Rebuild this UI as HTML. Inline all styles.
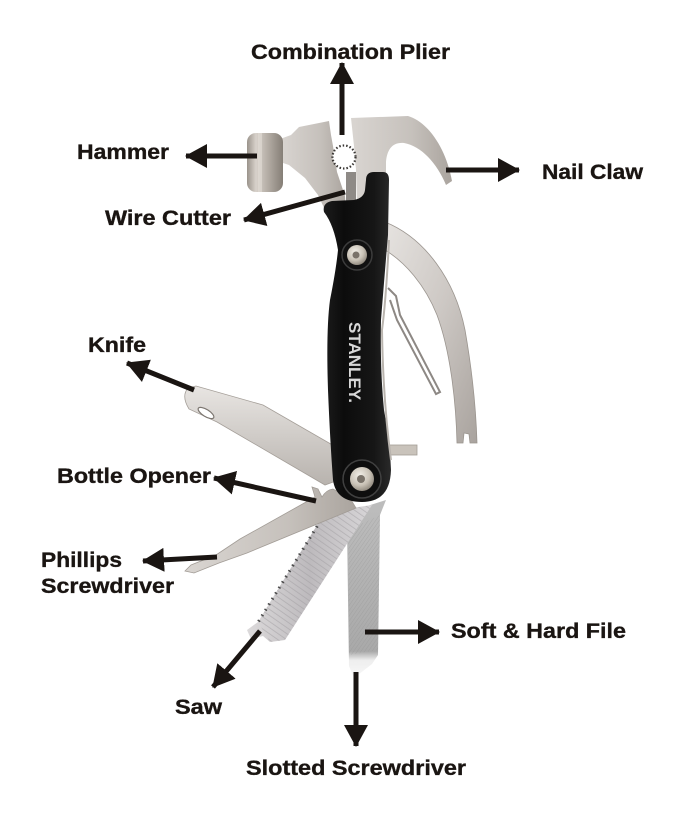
<!DOCTYPE html>
<html><head><meta charset="utf-8"><style>
html,body{margin:0;padding:0;background:#fff;}
svg{display:block;}
text{font-family:"Liberation Sans",Arial,sans-serif;font-weight:bold;fill:#1a1512;}
.lb text{stroke:#1a1512;stroke-width:0.35px;}
</style></head><body>
<svg width="683" height="820" viewBox="0 0 683 820" xmlns="http://www.w3.org/2000/svg">
<defs>
<linearGradient id="silv" x1="0" y1="0" x2="1" y2="1"><stop offset="0" stop-color="#e6e3e0"/><stop offset="0.5" stop-color="#cdc8c4"/><stop offset="1" stop-color="#a9a39e"/></linearGradient>
<linearGradient id="silv2" x1="0" y1="0" x2="1" y2="0"><stop offset="0" stop-color="#d9d5d1"/><stop offset="0.6" stop-color="#c6c1bc"/><stop offset="1" stop-color="#aaa49e"/></linearGradient>
<linearGradient id="head" x1="0" y1="0" x2="1" y2="0"><stop offset="0" stop-color="#9a938b"/><stop offset="0.25" stop-color="#d8d2cb"/><stop offset="0.55" stop-color="#b7b0a8"/><stop offset="1" stop-color="#857e76"/></linearGradient>
<linearGradient id="knife" x1="0" y1="0" x2="0" y2="1"><stop offset="0" stop-color="#e8e5e2"/><stop offset="1" stop-color="#b8b3ae"/></linearGradient>
<linearGradient id="hdl" x1="0" y1="0" x2="1" y2="0"><stop offset="0" stop-color="#1c1c1c"/><stop offset="0.3" stop-color="#0c0c0c"/><stop offset="0.75" stop-color="#161616"/><stop offset="1" stop-color="#2a2a2a"/></linearGradient>
<radialGradient id="scr" cx="0.4" cy="0.35" r="0.7"><stop offset="0" stop-color="#f2efe8"/><stop offset="0.6" stop-color="#c9c2b6"/><stop offset="1" stop-color="#8a8378"/></radialGradient>
<linearGradient id="file" x1="0" y1="0" x2="0" y2="1"><stop offset="0" stop-color="#bdbdbd"/><stop offset="0.85" stop-color="#a9a9a9"/><stop offset="0.9" stop-color="#eeeeee"/><stop offset="1" stop-color="#f8f8f8"/></linearGradient>
<linearGradient id="saw" x1="0" y1="0" x2="1" y2="0"><stop offset="0" stop-color="#dcdadb"/><stop offset="0.5" stop-color="#bdbabd"/><stop offset="1" stop-color="#d8d6d8"/></linearGradient>
<pattern id="hatch" width="3" height="3" patternUnits="userSpaceOnUse" patternTransform="rotate(35)"><rect width="3" height="3" fill="none"/><line x1="0" y1="0" x2="0" y2="3" stroke="#8f8f8f" stroke-width="0.8"/></pattern>
<pattern id="stripe" width="5" height="5" patternUnits="userSpaceOnUse" patternTransform="rotate(-55)"><line x1="0" y1="0" x2="0" y2="5" stroke="#9d9a9e" stroke-width="1.6"/></pattern>
<marker id="ah" viewBox="0 0 22 24" refX="21" refY="12" markerWidth="22" markerHeight="24" markerUnits="userSpaceOnUse" orient="auto"><path d="M0,0 L22,12 L0,24 Z" fill="#1a1512"/></marker>
</defs>

<!-- curved blade -->
<path d="M385,222 C425,238 455,280 465,330 C472,370 476,410 477,443 L470,443 L469,434 L464,433 L463,443 L457,443 C456,400 450,350 437,315 C425,285 405,262 385,250 Z" fill="url(#silv)" stroke="#9b958f" stroke-width="0.8"/>
<!-- clip wire -->
<path d="M388,288 L396,296 L400,315 L440,392 L436,394 L397,320 L390,300" fill="none" stroke="#8d8884" stroke-width="2"/>
<!-- tab -->
<rect x="388" y="445" width="29" height="10" fill="#c9c3bb" stroke="#a39d96" stroke-width="0.8"/>

<!-- file -->
<path d="M347,528 L358,509 L386,500 L380,515 L378,655 L372,664 L354,678 L349,666 Z" fill="url(#file)"/>
<path d="M348,530 L380,515 L378,650 L349,655 Z" fill="url(#hatch)" opacity="0.5"/>

<!-- saw -->
<path d="M325,512 L372,505 L285,640 L270,642 L263,636 L251,639 L247,630 L258,622 Z" fill="url(#saw)"/>
<path d="M325,512 L372,505 L285,640 L270,642 L258,622 Z" fill="url(#stripe)" opacity="0.55"/>
<line x1="324" y1="515" x2="257" y2="624" stroke="#4a4a4a" stroke-width="3" stroke-dasharray="1.5 5"/>

<!-- bottle opener / phillips -->
<path d="M350,498 L333,489 Q326,490 322,497 L318,489 L312,487 L315,497 L240,539 L222,551 L216,555 L191,565 L185,571 L194,573 L219,563 L247,553 L356,508 Z" fill="url(#silv2)" stroke="#a29c96" stroke-width="0.8"/>

<!-- knife -->
<path d="M188,388 Q181,396 189,409 L217,422 L325,485 L336,481 L336,447 L263,405 L196,386 Z" fill="url(#knife)" stroke="#a49e98" stroke-width="0.8"/>
<ellipse cx="206" cy="413" rx="9" ry="3.5" transform="rotate(32 206 413)" fill="#fff" stroke="#7c7670" stroke-width="1.2"/>

<!-- jaws -->
<path d="M280,139 L291,135 L299,127 L329,121 L331,135 L333,146 L337,172 L345,196 L346,212 L326,212 L318,195 L305,178 L289,165 L280,162 Z" fill="url(#silv2)"/>
<path d="M351,118 L408,116 C428,122 446,148 452,181 L446,185 C437,163 421,146 404,143 C392,142 387,150 386,162 L386,205 L357,205 L356,170 L354,146 Z" fill="url(#silv2)"/>
<rect x="346" y="172" width="10" height="30" fill="#8e8a86"/>
<circle cx="344" cy="157" r="11.5" fill="#fff" stroke="#3a3734" stroke-width="2.2" stroke-dasharray="1.5 2"/>
<!-- hammer head -->
<rect x="247" y="133" width="36" height="59" rx="9" fill="url(#head)"/>
<rect x="258" y="133" width="4" height="59" fill="#e2ddd7" opacity="0.6"/>

<!-- handle -->
<path d="M366,180 Q366,172 374,172 L383,172 Q389,172 389,180 L388,235 Q385,270 381,320 Q380,370 384,410 Q390,440 391,470 Q390,502 362,502 Q336,502 333,480 Q330,440 328,390 Q326,330 330,300 Q336,270 338,250 Q334,225 324,212 Q322,203 332,201 L354,200 Q364,198 365,190 Z" fill="url(#hdl)"/>
<path d="M389,240 Q386,300 382,330 Q383,400 391,460" fill="none" stroke="#b9b4ae" stroke-width="2"/>

<!-- screws -->
<circle cx="357" cy="255" r="15" fill="#111" stroke="#3c3c3c" stroke-width="1.5"/>
<circle cx="357" cy="255" r="10" fill="url(#scr)"/>
<circle cx="356" cy="255" r="3.5" fill="#7a736a"/>
<circle cx="362" cy="479" r="19" fill="#0e0e0e" stroke="#404040" stroke-width="1.5"/>
<circle cx="362" cy="479" r="12" fill="url(#scr)"/>
<circle cx="361" cy="479" r="4" fill="#7a736a"/>

<text transform="translate(349,322) rotate(90)" font-size="17" textLength="81" lengthAdjust="spacingAndGlyphs" style="fill:#d8d8d8">STANLEY.</text>

<!-- arrows -->
<g stroke="#1a1512" stroke-width="5" marker-end="url(#ah)">
<line x1="342" y1="135" x2="342" y2="63"/>
<line x1="257" y1="156" x2="186" y2="156"/>
<line x1="446" y1="170" x2="519" y2="170"/>
<line x1="345" y1="192" x2="244" y2="220"/>
<line x1="194" y1="390" x2="127" y2="363"/>
<line x1="316" y1="501" x2="214" y2="478"/>
<line x1="217" y1="557" x2="143" y2="561"/>
<line x1="365" y1="632" x2="439" y2="632"/>
<line x1="260" y1="631" x2="213" y2="687"/>
<line x1="356" y1="672" x2="356" y2="746"/>
</g>

<!-- labels -->
<g font-size="21" class="lb">
<text x="251" y="59" textLength="199" lengthAdjust="spacingAndGlyphs">Combination Plier</text>
<text x="77" y="159" textLength="92" lengthAdjust="spacingAndGlyphs">Hammer</text>
<text x="542" y="179" textLength="101" lengthAdjust="spacingAndGlyphs">Nail Claw</text>
<text x="105" y="225" textLength="126" lengthAdjust="spacingAndGlyphs">Wire Cutter</text>
<text x="88" y="352" textLength="58" lengthAdjust="spacingAndGlyphs">Knife</text>
<text x="57" y="483" textLength="154" lengthAdjust="spacingAndGlyphs">Bottle Opener</text>
<text x="41" y="567" textLength="81" lengthAdjust="spacingAndGlyphs">Phillips</text>
<text x="41" y="593" textLength="133" lengthAdjust="spacingAndGlyphs">Screwdriver</text>
<text x="451" y="638" textLength="175" lengthAdjust="spacingAndGlyphs">Soft &amp; Hard File</text>
<text x="175" y="714" textLength="47" lengthAdjust="spacingAndGlyphs">Saw</text>
<text x="246" y="775" textLength="220" lengthAdjust="spacingAndGlyphs">Slotted Screwdriver</text>
</g>
</svg>
</body></html>
